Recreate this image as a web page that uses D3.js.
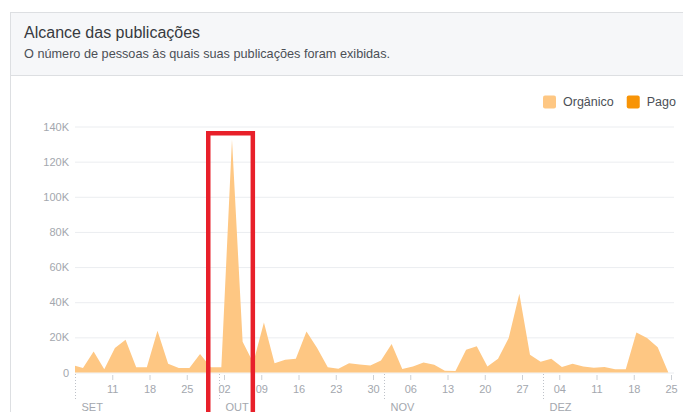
<!DOCTYPE html>
<html>
<head>
<meta charset="utf-8">
<script src="https://cdnjs.cloudflare.com/ajax/libs/d3/7.8.5/d3.min.js"></script>
<style>
  body { margin: 0; background: #fff; }
  svg { display: block; font-family: "Liberation Sans", Arial, Helvetica, sans-serif; }
</style>
</head>
<body>
<div class="chart"></div>
<script>
// Alcance orgânico, um ponto a cada 2 dias (milhares de pessoas)
var organicValues = [
  4.2, 2.5, 12, 1.9, 13.9, 18.6, 3, 3, 23.8, 5,
  2.5, 2.5, 10.5, 3, 3, 132.6, 17.5, 5.5, 28.5, 5.3,
  7.2, 7.8, 23.4, 13.9, 3, 2.1, 5.3, 4.6, 4, 6.8,
  16.2, 2, 3.4, 5.7, 4.4, 1, 0.8, 12.9, 15, 3.4,
  7.8, 19.6, 44.8, 10.1, 6.1, 7.8, 3.1, 5, 3.4, 2.7,
  3.1, 1.9, 1.9, 22.8, 19.6, 14.3, 0
];
var firstPoint = new Date(2017, 8, 3, 12);   // 3 set 2017, meio-dia
var stepDays = 2;

var yTicks = [0, 20000, 40000, 60000, 80000, 100000, 120000, 140000];
var months = [
  { name: "SET", date: new Date(2017, 8, 4) },
  { name: "OUT", date: new Date(2017, 9, 1) },
  { name: "NOV", date: new Date(2017, 10, 1) },
  { name: "DEZ", date: new Date(2017, 11, 1) }
];
var legendItems = [
  { name: "Orgânico", color: "#fec783" },
  { name: "Pago", color: "#f89406" }
];
var highlight = { from: new Date(2017, 8, 29, 1), to: new Date(2017, 9, 7, 10) };

var svgWidth = 683;
var svgHeight = 412;

var data = organicValues.map(function (v, i) {
  return { date: d3.timeHour.offset(firstPoint, i * stepDays * 24), value: v * 1000 };
});

var svg = d3.select(".chart")
  .append("svg")
  .attr("width", svgWidth)
  .attr("height", svgHeight);

// Cartão
svg.append("rect")
  .attr("x", 10.5).attr("y", 12.5)
  .attr("width", svgWidth).attr("height", svgHeight)
  .attr("fill", "#fff")
  .attr("stroke", "#dddfe2");

svg.append("rect")
  .attr("x", 11).attr("y", 13)
  .attr("width", svgWidth).attr("height", 62)
  .attr("fill", "#f6f7f9");

svg.append("line")
  .attr("x1", 11).attr("x2", svgWidth)
  .attr("y1", 75.5).attr("y2", 75.5)
  .attr("stroke", "#dddfe2");

svg.append("text")
  .attr("x", 24).attr("y", 38)
  .attr("font-size", "16px")
  .attr("fill", "#373a40")
  .text("Alcance das publicações");

svg.append("text")
  .attr("x", 24).attr("y", 58)
  .attr("font-size", "12.7px")
  .attr("fill", "#4b4f56")
  .text("O número de pessoas às quais suas publicações foram exibidas.");

// Legenda
var legend = svg.append("g");
var lx = 543;
legendItems.forEach(function (item) {
  legend.append("rect")
    .attr("x", lx).attr("y", 95.5)
    .attr("width", 13).attr("height", 13)
    .attr("rx", 2)
    .attr("fill", item.color);
  var t = legend.append("text")
    .attr("x", lx + 20).attr("y", 106)
    .attr("font-size", "12.5px")
    .attr("fill", "#4b4f56")
    .text(item.name);
  lx += 20 + t.node().getComputedTextLength() + 13;
});

// Escalas
var x = d3.scaleTime()
  .domain([new Date(2017, 8, 4), new Date(2017, 11, 25)])
  .range([75, 671]);

var y = d3.scaleLinear()
  .domain([0, 140000])
  .range([372.5, 126.5]);

// Grade e rótulos do eixo Y
var leftAxis = d3.axisLeft(y)
  .tickValues(yTicks)
  .tickSize(-(674 - 75))
  .tickPadding(6)
  .tickFormat(function (d) { return d === 0 ? "0" : (d / 1000) + "K"; });

var yAxis = svg.append("g")
  .attr("transform", "translate(75,0)")
  .call(leftAxis);
yAxis.select(".domain").remove();
yAxis.selectAll(".tick line").attr("stroke", "#ebedf0");
yAxis.selectAll(".tick text")
  .attr("fill", "#a3a7ae")
  .attr("font-size", "11px")
  .attr("font-family", "Liberation Sans, Arial, sans-serif");

// Área orgânica
svg.append("clipPath").attr("id", "plot-clip")
  .append("rect")
  .attr("x", x.range()[0]).attr("y", 0)
  .attr("width", svgWidth).attr("height", svgHeight);

var area = d3.area()
  .x(function (d) { return x(d.date); })
  .y0(y(0))
  .y1(function (d) { return y(d.value); });

svg.append("path")
  .datum(data)
  .attr("clip-path", "url(#plot-clip)")
  .attr("fill", legendItems[0].color)
  .attr("d", area);

// Eixo X (segundas-feiras)
var mondays = d3.timeMonday.range(new Date(2017, 8, 5), new Date(2017, 11, 26));
var bottomAxis = d3.axisBottom(x)
  .tickValues(mondays)
  .tickSize(5)
  .tickPadding(5)
  .tickFormat(d3.timeFormat("%d"));

var xAxis = svg.append("g")
  .attr("transform", "translate(0,375)")
  .call(bottomAxis);
xAxis.select(".domain").remove();
xAxis.selectAll(".tick line").attr("stroke", "#ccd0d5");
xAxis.selectAll(".tick text")
  .attr("fill", "#a3a7ae")
  .attr("font-size", "11px")
  .attr("font-family", "Liberation Sans, Arial, sans-serif");

// Meses
var monthGroup = svg.append("g").selectAll("g")
  .data(months)
  .enter()
  .append("g")
  .attr("transform", function (d) { return "translate(" + (Math.round(x(d.date)) + 0.5) + ",0)"; });

monthGroup.append("line")
  .attr("y1", 374).attr("y2", 400)
  .attr("stroke", "#bec2c9")
  .attr("stroke-dasharray", "1,2");

monthGroup.append("text")
  .attr("x", 6).attr("y", 411)
  .attr("font-size", "11px")
  .attr("fill", "#a3a7ae")
  .text(function (d) { return d.name; });

// Destaque vermelho
var hx0 = x(highlight.from), hx1 = x(highlight.to);
svg.append("rect")
  .attr("x", hx0).attr("y", y(140000) + 6.75)
  .attr("width", hx1 - hx0)
  .attr("height", 300)
  .attr("fill", "none")
  .attr("stroke", "#e8202a")
  .attr("stroke-width", 4.5);
</script>
</body>
</html>
